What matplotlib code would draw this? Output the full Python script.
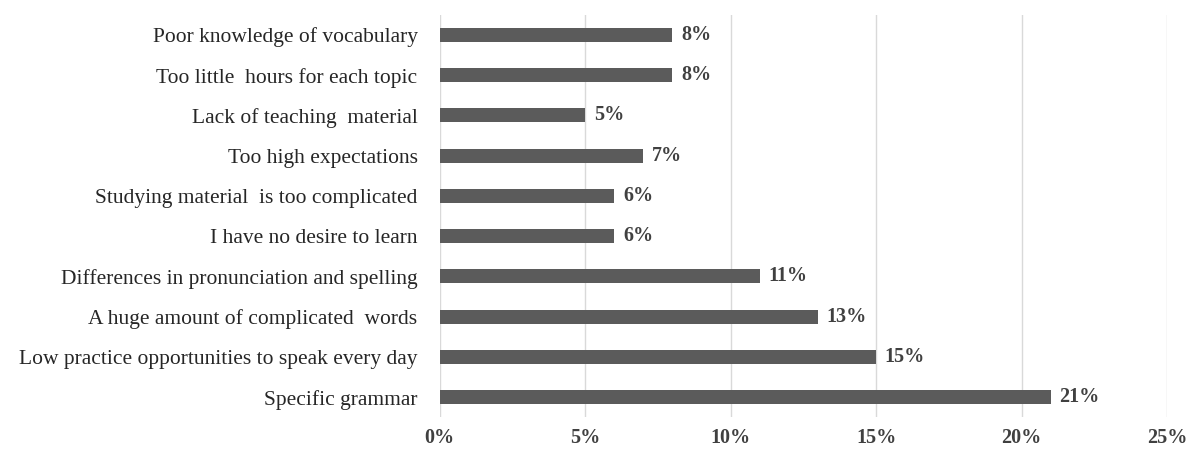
import matplotlib.pyplot as plt
from matplotlib.ticker import FuncFormatter

# Reasons, listed bottom to top as they appear in the chart
reasons = [
    "Specific grammar",
    "Low practice opportunities to speak every day",
    "A huge amount of complicated  words",
    "Differences in pronunciation and spelling",
    "I have no desire to learn",
    "Studying material  is too complicated",
    "Too high expectations",
    "Lack of teaching  material",
    "Too little  hours for each topic",
    "Poor knowledge of vocabulary",
]
shares = [21, 15, 13, 11, 6, 6, 7, 5, 8, 8]
x_ticks = [0, 5, 10, 15, 20, 25]

plt.rcParams['font.family'] = ['Liberation Serif', 'DejaVu Serif']

fig = plt.figure(figsize=(11.95, 4.51), dpi=100)
ax = fig.add_axes([0.368, 0.075, 0.6086, 0.892])

pos = list(range(len(reasons)))
ax.barh(pos, shares, height=0.35, color='#5b5b5b', zorder=3)

for p, v in zip(pos, shares):
    ax.text(v + 0.3, p, f"{v}%", va='center', ha='left',
            fontsize=14.5, fontweight='bold', color='#404040')

ax.set_xlim(0, 25)
ax.set_ylim(-0.5, len(reasons) - 0.5)
ax.set_xticks(x_ticks)
ax.xaxis.set_major_formatter(FuncFormatter(lambda v, _: f"{v:.0f}%"))
ax.set_yticks(pos)
ax.set_yticklabels(reasons, fontsize=15.5, color='#262626')
for lbl in ax.get_xticklabels():
    lbl.set_fontsize(14.5)
    lbl.set_fontweight('bold')
    lbl.set_color('#404040')

ax.grid(axis='x', color='#d9d9d9', linewidth=1, zorder=0)
ax.tick_params(length=0)
ax.tick_params(axis='y', pad=16)
ax.tick_params(axis='x', pad=8)
for s in ax.spines.values():
    s.set_visible(False)

fig.savefig('out.png', dpi=100)
